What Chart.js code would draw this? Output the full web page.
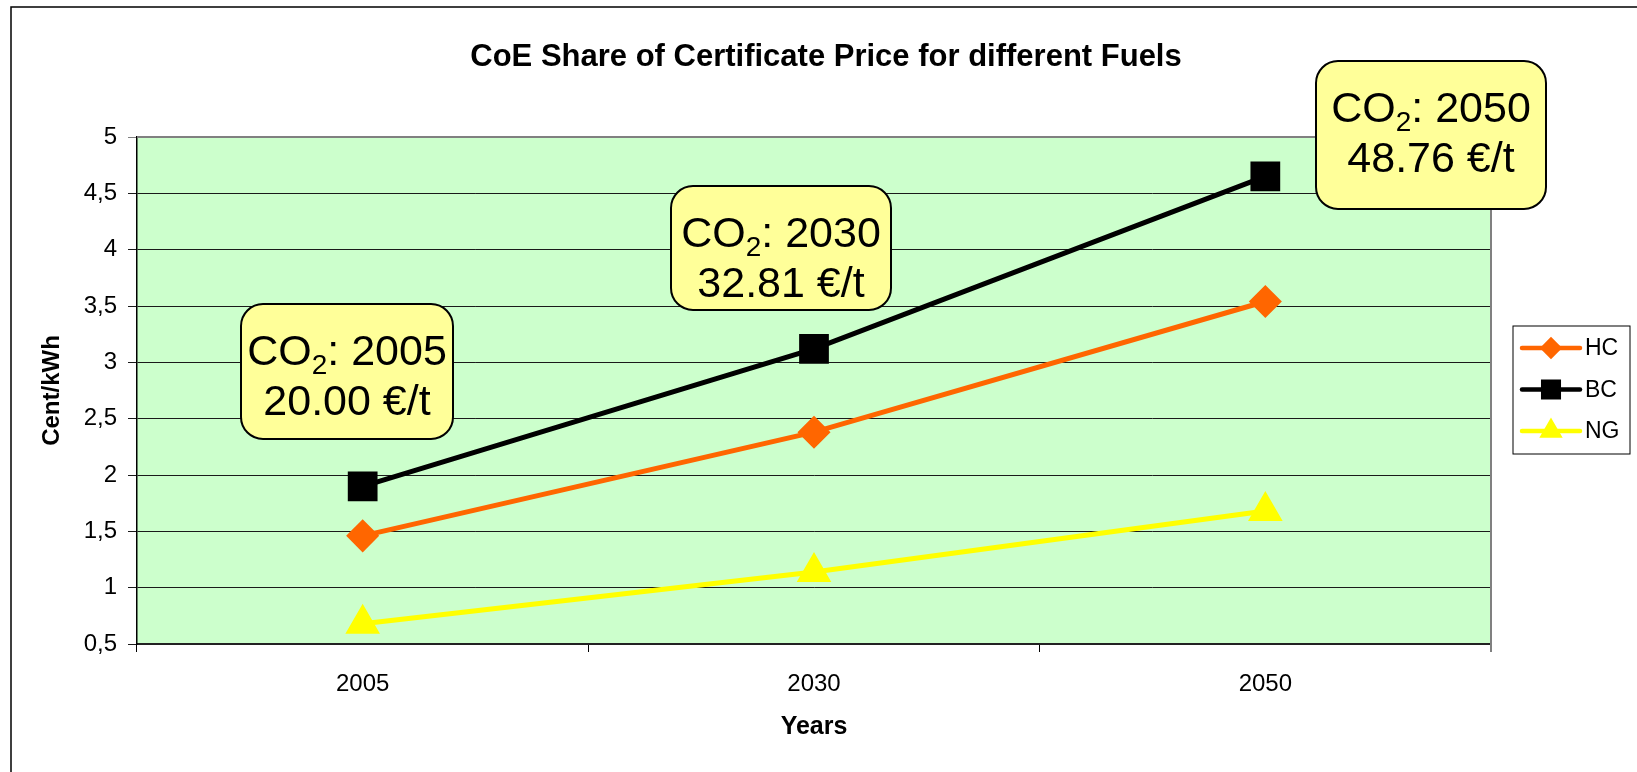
<!DOCTYPE html>
<html>
<head>
<meta charset="utf-8">
<script src="https://cdn.jsdelivr.net/npm/chart.js@4/dist/chart.umd.min.js"></script>
<style>
  html, body { margin: 0; padding: 0; background: #fff; }
  canvas { display: block; }
</style>
</head>
<body>
<canvas id="coeChart" width="1637" height="772"></canvas>
<script>
// Data
const years = ['2005', '2030', '2050'];
const hcValues = [1.46, 2.38, 3.54];
const bcValues = [1.90, 3.12, 4.65];
const ngValues = [0.68, 1.14, 1.68];
const yMin = 0.5;
const yMax = 5;
const yStep = 0.5;

// CO2 certificate callouts
const certYears = ['2005', '2030', '2050'];
const certPrices = ['20.00', '32.81', '48.76'];

// Callout box placement (pixels)
const calloutBoxes = [
  { x: 241, y: 304, w: 212, h: 135 },
  { x: 671, y: 186, w: 220, h: 124 },
  { x: 1316, y: 61, w: 230, h: 148 },
];

const FONT = '"Liberation Sans", Arial, sans-serif';

// Rounded rectangle path helper
function roundRect(ctx, x, y, w, h, r) {
  ctx.beginPath();
  ctx.moveTo(x + r, y);
  ctx.lineTo(x + w - r, y);
  ctx.arcTo(x + w, y, x + w, y + r, r);
  ctx.lineTo(x + w, y + h - r);
  ctx.arcTo(x + w, y + h, x + w - r, y + h, r);
  ctx.lineTo(x + r, y + h);
  ctx.arcTo(x, y + h, x, y + h - r, r);
  ctx.lineTo(x, y + r);
  ctx.arcTo(x, y, x + r, y, r);
  ctx.closePath();
}

// Draw "CO2: yyyy" with a subscript 2, centred on cx
function drawCo2Line(ctx, year, cx, cy) {
  const big = `43px ${FONT}`;
  const small = `28px ${FONT}`;
  ctx.font = big;
  const wCO = ctx.measureText('CO').width;
  const wRest = ctx.measureText(`: ${year}`).width;
  ctx.font = small;
  const wSub = ctx.measureText('2').width;
  let x = cx - (wCO + wSub + wRest) / 2;
  ctx.textAlign = 'left';
  ctx.textBaseline = 'alphabetic';
  ctx.font = big;
  ctx.fillText('CO', x, cy);
  x += wCO;
  ctx.font = small;
  ctx.fillText('2', x, cy + 9);
  x += wSub;
  ctx.font = big;
  ctx.fillText(`: ${year}`, x, cy);
}

const chartDecor = {
  id: 'chartDecor',
  beforeDraw(chart) {
    const { ctx, chartArea: a } = chart;
    ctx.save();
    ctx.fillStyle = '#fff';
    ctx.fillRect(0, 0, chart.width, chart.height);
    // outer chart frame (cut off at right and bottom)
    ctx.strokeStyle = '#000';
    ctx.lineWidth = 1.5;
    ctx.strokeRect(11, 7, chart.width + 20, chart.height + 20);
    // plot area
    ctx.fillStyle = '#CCFFCC';
    ctx.fillRect(a.left, a.top, a.right - a.left, a.bottom - a.top);
    ctx.restore();
  },
  beforeDatasetsDraw(chart) {
    const { ctx, chartArea: a } = chart;
    ctx.save();
    ctx.strokeStyle = '#808080';
    ctx.lineWidth = 2;
    ctx.beginPath();
    ctx.moveTo(a.left, a.top);
    ctx.lineTo(a.right, a.top);
    ctx.lineTo(a.right, a.bottom + 8);
    ctx.stroke();
    ctx.restore();
  },
  afterDraw(chart) {
    const { ctx } = chart;
    ctx.save();

    // title
    ctx.fillStyle = '#000';
    ctx.font = `bold 31px ${FONT}`;
    ctx.textAlign = 'center';
    ctx.textBaseline = 'middle';
    ctx.fillText('CoE Share of Certificate Price for different Fuels', 826, 57);

    // legend
    const lg = { x: 1513, y: 326, w: 117, h: 128 };
    ctx.strokeStyle = '#000';
    ctx.lineWidth = 1;
    ctx.strokeRect(lg.x, lg.y, lg.w, lg.h);
    chart.data.datasets.forEach((ds, i) => {
      const cy = 348 + i * 41.5;
      ctx.strokeStyle = ds.borderColor;
      ctx.lineWidth = 4.5;
      ctx.lineCap = 'round';
      ctx.beginPath();
      ctx.moveTo(1522, cy);
      ctx.lineTo(1580, cy);
      ctx.stroke();
      ctx.fillStyle = ds.pointBackgroundColor;
      ctx.strokeStyle = ds.pointBackgroundColor;
      Chart.helpers.drawPoint(ctx, {
        pointStyle: ds.pointStyle,
        radius: ds.legendRadius,
        rotation: 0,
        borderWidth: 1,
      }, 1551, cy);
      ctx.fillStyle = '#000';
      ctx.font = `23px ${FONT}`;
      ctx.textAlign = 'left';
      ctx.textBaseline = 'middle';
      ctx.fillText(ds.label, 1585, cy + 1);
    });

    // CO2 certificate price callouts
    calloutBoxes.forEach((b, i) => {
      roundRect(ctx, b.x, b.y, b.w, b.h, 22);
      ctx.fillStyle = '#FFFF99';
      ctx.fill();
      ctx.strokeStyle = '#000';
      ctx.lineWidth = 2;
      ctx.stroke();
      ctx.fillStyle = '#000';
      const cx = b.x + b.w / 2;
      drawCo2Line(ctx, certYears[i], cx, b.y + 61);
      ctx.font = `43px ${FONT}`;
      ctx.textAlign = 'center';
      ctx.textBaseline = 'alphabetic';
      ctx.fillText(`${certPrices[i]} €/t`, cx, b.y + 111);
    });

    ctx.restore();
  }
};

const ctx = document.getElementById('coeChart').getContext('2d');

new Chart(ctx, {
  type: 'line',
  data: {
    labels: years,
    datasets: [
      {
        label: 'HC',
        data: hcValues,
        borderColor: '#FF6600',
        pointBackgroundColor: '#FF6600',
        pointBorderColor: '#FF6600',
        pointStyle: 'rectRot',
        pointRadius: 13,
        legendRadius: 8,
        borderWidth: 5,
      },
      {
        label: 'BC',
        data: bcValues,
        borderColor: '#000000',
        pointBackgroundColor: '#000000',
        pointBorderColor: '#000000',
        pointStyle: 'rect',
        pointRadius: 17.5,
        legendRadius: 11,
        borderWidth: 5,
      },
      {
        label: 'NG',
        data: ngValues,
        borderColor: '#FFFF00',
        pointBackgroundColor: '#FFFF00',
        pointBorderColor: '#FFFF00',
        pointStyle: 'triangle',
        pointRadius: 15,
        legendRadius: 9,
        borderWidth: 5,
      },
    ],
  },
  options: {
    responsive: false,
    animation: false,
    devicePixelRatio: 1,
    layout: { padding: { left: 30, top: 137, right: 146, bottom: 20 } },
    elements: {
      line: { tension: 0 },
      point: { borderWidth: 1, hoverRadius: 13 },
    },
    plugins: {
      legend: { display: false },
      title: { display: false },
      tooltip: { enabled: false },
    },
    scales: {
      x: {
        type: 'category',
        offset: true,
        afterFit: (s) => { s.height = 108; },
        grid: {
          offset: true,
          drawOnChartArea: false,
          drawTicks: true,
          tickLength: 8,
          color: '#000',
        },
        border: { display: true, color: '#222', width: 2 },
        ticks: {
          color: '#000',
          font: { family: FONT, size: 24 },
          padding: 18,
        },
        title: {
          display: true,
          text: 'Years',
          color: '#000',
          font: { family: FONT, size: 25, weight: 'bold' },
          padding: { top: 0, bottom: 10 },
        },
      },
      y: {
        min: yMin,
        max: yMax,
        afterFit: (s) => { s.width = 107; },
        grid: {
          color: (c) => (c.tick && c.tick.value === yMax ? '#808080' : '#1a1a1a'),
          lineWidth: 1,
          tickLength: 9,
        },
        border: { display: true, color: '#000', width: 1.5 },
        ticks: {
          stepSize: yStep,
          color: '#000',
          font: { family: FONT, size: 24 },
          padding: 11,
          callback: (v) => String(v).replace('.', ','),
        },
        title: {
          display: true,
          text: 'Cent/kWh',
          color: '#000',
          font: { family: FONT, size: 24, weight: 'bold' },
          padding: { top: 8, bottom: 0 },
        },
      },
    },
  },
  plugins: [chartDecor],
});
</script>
</body>
</html>
